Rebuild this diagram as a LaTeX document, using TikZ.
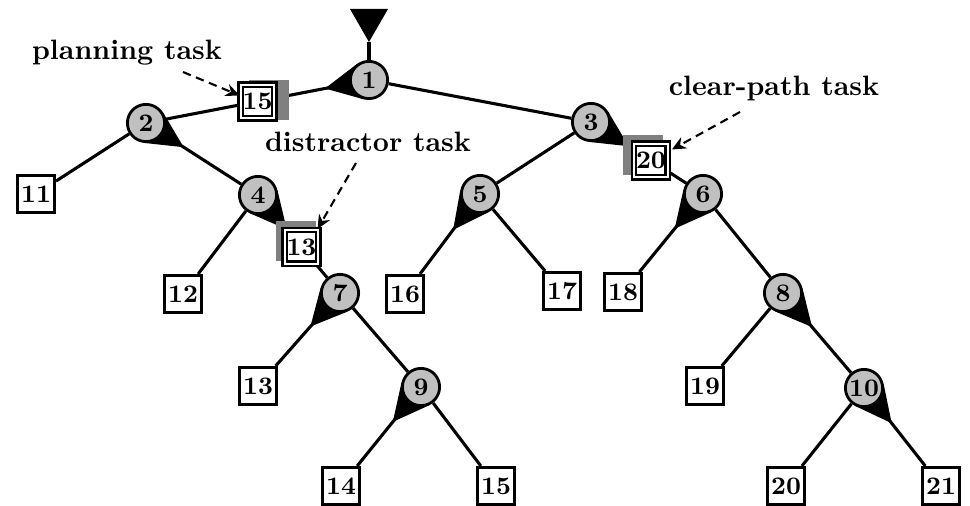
\documentclass[tikz,border=0pt]{standalone}
\usetikzlibrary{calc,arrows.meta,backgrounds}
\definecolor{nodegray}{RGB}{192,192,192}
\definecolor{bargray}{RGB}{128,128,128}

% black teardrop from a circle node #1 towards #2, tip at distance #3
\newcommand\wedgeto[3]{%
  \coordinate (wtip) at ($(#1)!#3!(#2)$);
  \fill (wtip) -- (tangent cs:node=#1,point={(wtip)},solution=1)
        -- (tangent cs:node=#1,point={(wtip)},solution=2) -- cycle;}

\begin{document}
\begin{tikzpicture}[x=0.357pt,y=-0.357pt,font=\bfseries,
  numfont/.style={font=\bfseries\fontsize{9}{11}\selectfont},
  inner/.style={circle,draw,fill=nodegray,line width=1pt,minimum size=13.3pt,inner sep=0pt,numfont},
  leaf/.style={rectangle,draw,fill=white,line width=1pt,minimum size=13.3pt,inner sep=0pt,numfont},
  relay/.style={rectangle,draw,fill=white,line width=0.8pt,double=white,double distance=0.75pt,minimum size=12pt,inner sep=0pt,numfont},
  link/.style={line width=1.1pt},
  callout/.style={dash pattern=on 3pt off 2pt,line width=0.75pt,-{Stealth[length=5pt,width=4.5pt]}},
  bar/.style={fill=bargray}]
\useasboundingbox (0,0) rectangle (970,506);

% decision nodes
\node[inner] (n1)  at (369,80)  {1};
\node[inner] (n2)  at (146,123) {2};
\node[inner] (n3)  at (591,122) {3};
\node[inner] (n4)  at (258,195) {4};
\node[inner] (n5)  at (480,194) {5};
\node[inner] (n6)  at (703,194) {6};
\node[inner] (n7)  at (340,293) {7};
\node[inner] (n8)  at (783,293) {8};
\node[inner] (n9)  at (421,387) {9};
\node[inner] (n10) at (864,388) {10};

% leaves
\node[leaf] (l11) at (36,194)  {11};
\node[leaf] (l12) at (183,294) {12};
\node[leaf] (l16) at (405,294) {16};
\node[leaf] (l17) at (562,291) {17};
\node[leaf] (l18) at (623,292) {18};
\node[leaf] (l13) at (258,386) {13};
\node[leaf] (l19) at (705,386) {19};
\node[leaf] (l14) at (341,486) {14};
\node[leaf] (l15) at (496,486) {15};
\node[leaf] (l20) at (786,486) {20};
\node[leaf] (l21) at (941,486) {21};

% entry marker
\coordinate (root) at (369,42);
\fill (350,9) -- (388,9) -- (root) -- cycle;

\begin{scope}[on background layer]
  \draw[link] (root) -- (n1);
  \draw[link] (n1) -- (n2);
  \draw[link] (n1) -- (n3);
  \draw[link] (n2) -- (l11);
  \draw[link] (n2) -- (n4);
  \draw[link] (n4) -- (l12);
  \draw[link] (n4) -- (n7);
  \draw[link] (n7) -- (l13);
  \draw[link] (n7) -- (n9);
  \draw[link] (n9) -- (l14);
  \draw[link] (n9) -- (l15);
  \draw[link] (n3) -- (n5);
  \draw[link] (n3) -- (n6);
  \draw[link] (n5) -- (l16);
  \draw[link] (n5) -- (l17);
  \draw[link] (n6) -- (l18);
  \draw[link] (n6) -- (n8);
  \draw[link] (n8) -- (l19);
  \draw[link] (n8) -- (n10);
  \draw[link] (n10) -- (l20);
  \draw[link] (n10) -- (l21);
  \wedgeto{n1}{n2}{16pt}
  \wedgeto{n2}{n4}{16pt}
  \wedgeto{n4}{n7}{16pt}
  \wedgeto{n7}{l13}{16pt}
  \wedgeto{n9}{l14}{16pt}
  \wedgeto{n3}{n6}{16pt}
  \wedgeto{n5}{l16}{16pt}
  \wedgeto{n6}{l18}{16pt}
  \wedgeto{n8}{n10}{16pt}
  \wedgeto{n10}{l21}{16pt}
\end{scope}

% task boxes sitting on edges
\coordinate (p15) at ($(n1)!0.5!(n2)$);
\coordinate (p13) at ($(n4)!0.53!(n7)$);
\coordinate (p20) at ($(n3)!0.535!(n6)$);
\fill[bar] ($(p15)+(11,-1.5)$) +(-20,-20) rectangle +(20,20);
\fill[bar] ($(p13)+(-5,-5.5)$) +(-20,-20) rectangle +(20,20);
\fill[bar] ($(p20)+(-7.5,-5.5)$) +(-20,-20) rectangle +(20,20);
\node[relay] (b15) at (p15) {15};
\node[relay] (b13) at (p13) {13};
\node[relay] (b20) at (p20) {20};

% task labels
\node (lplan)  at (127,53)  {planning task};
\node (ldist)  at (368,142) {distractor task};
\node (lclear) at (774,89)  {clear-path task};
\coordinate (cplan)  at (183,72);
\coordinate (cdist)  at (356,163);
\coordinate (cclear) at (740,112);
\coordinate (tplan)  at ($(b15.west)+(0,-6)$);
\coordinate (tdist)  at ($(b13.north)+(16,0)$);
\coordinate (tclear) at ($(b20.east)+(3,-11)$);
\draw[callout] (cplan) -- (tplan);
\draw[callout] (cdist) -- (tdist);
\draw[callout] (cclear) -- (tclear);
\end{tikzpicture}
\end{document}
